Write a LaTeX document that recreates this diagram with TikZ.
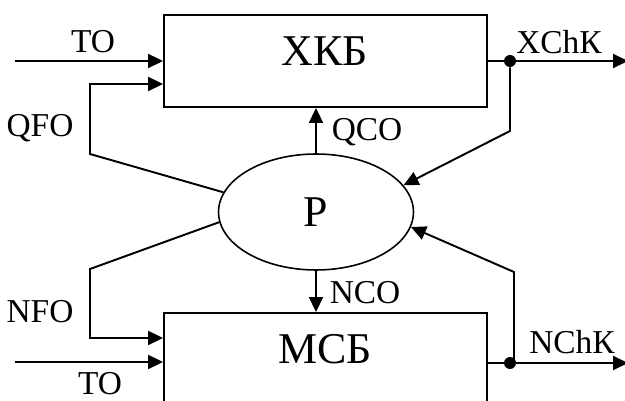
\documentclass[tikz,border=0pt]{standalone}
\usepackage{fontspec}
\setmainfont{Liberation Serif}
\usetikzlibrary{shapes.geometric,arrows.meta,positioning}

\tikzset{
  blok/.style={draw, line width=1.1pt, minimum width=6.46cm, minimum height=1.84cm, inner sep=0pt},
  sig/.style={line width=1.1pt, -{Triangle[length=0.3cm,width=0.28cm]}},
  wire/.style={line width=1.1pt},
  lbl/.style={font=\fontsize{19}{22}\selectfont, inner sep=0pt},
  big/.style={font=\fontsize{25}{30}\selectfont, inner sep=0pt},
  tap/.style={circle, fill, inner sep=0pt, minimum size=0.24cm},
}

\begin{document}
\begin{tikzpicture}[x=0.02cm, y=-0.02cm]
    \useasboundingbox (0,0) rectangle (625,401);
    \clip (0,0) rectangle (625,401);

    % blocks
    \node[blok] (xkb) at (325.5,61) {};
    \node[big] (xkbt) at (325,51) {ХКБ};
    \node[blok] (msb) at (325.5,359) {};
    \node[big] (msbt) at (325,349) {МСБ};
    \node[ellipse, draw, line width=0.9pt, minimum width=3.9cm, minimum height=2.32cm, inner sep=0pt] (p) at (316,212) {};
    \node[big] (pt) at (p) {Р};

    % inputs
    \coordinate (toa) at (15,61);
    \coordinate (tob) at (15,362);
    \coordinate (qfa) at (90,154);
    \coordinate (qfb) at (90,84);
    \coordinate (nfa) at (90,269);
    \coordinate (nfb) at (90,338);
    \draw[sig] (toa) -- (toa -| xkb.west);
    \draw[sig] (p.168) -- (qfa) -- (qfb) -- (qfb -| xkb.west);
    \draw[sig] (tob) -- (tob -| msb.west);
    \draw[sig] (p.186) -- (nfa) -- (nfb) -- (nfb -| msb.west);

    % controls
    \draw[sig] (p.north) -- (p.north |- xkb.south);
    \draw[sig] (p.south) -- (p.south |- msb.north);

    % outputs
    \node[tap] (xd) at (510,61) {};
    \node[tap] (nd) at (510,363) {};
    \coordinate (xout) at (628,61);
    \coordinate (nout) at (628,363);
    \coordinate (xfb) at (510,131);
    \coordinate (nfbk) at (514,272);
    \draw[wire] (xd -| xkb.east) -- (xd);
    \draw[sig] (xd) -- (xout);
    \draw[wire] (nd -| msb.east) -- (nd);
    \draw[sig] (nd) -- (nout);
    \draw[sig] (xd) -- (xfb) -- (p.17);
    \draw[sig] (nd -| nfbk) -- (nfbk) -- (p.-9);

    % labels
    \node[lbl] at (93,42) {TO};
    \node[lbl] at (40,128) {QFO};
    \node[lbl] at (367,132) {QCO};
    \node[lbl] at (559,42) {XChК};
    \node[lbl] at (40,312) {NFO};
    \node[lbl] at (100,384) {TO};
    \node[lbl] at (365,293) {NCO};
    \node[lbl] at (572,342) {NChК};
\end{tikzpicture}
\end{document}
